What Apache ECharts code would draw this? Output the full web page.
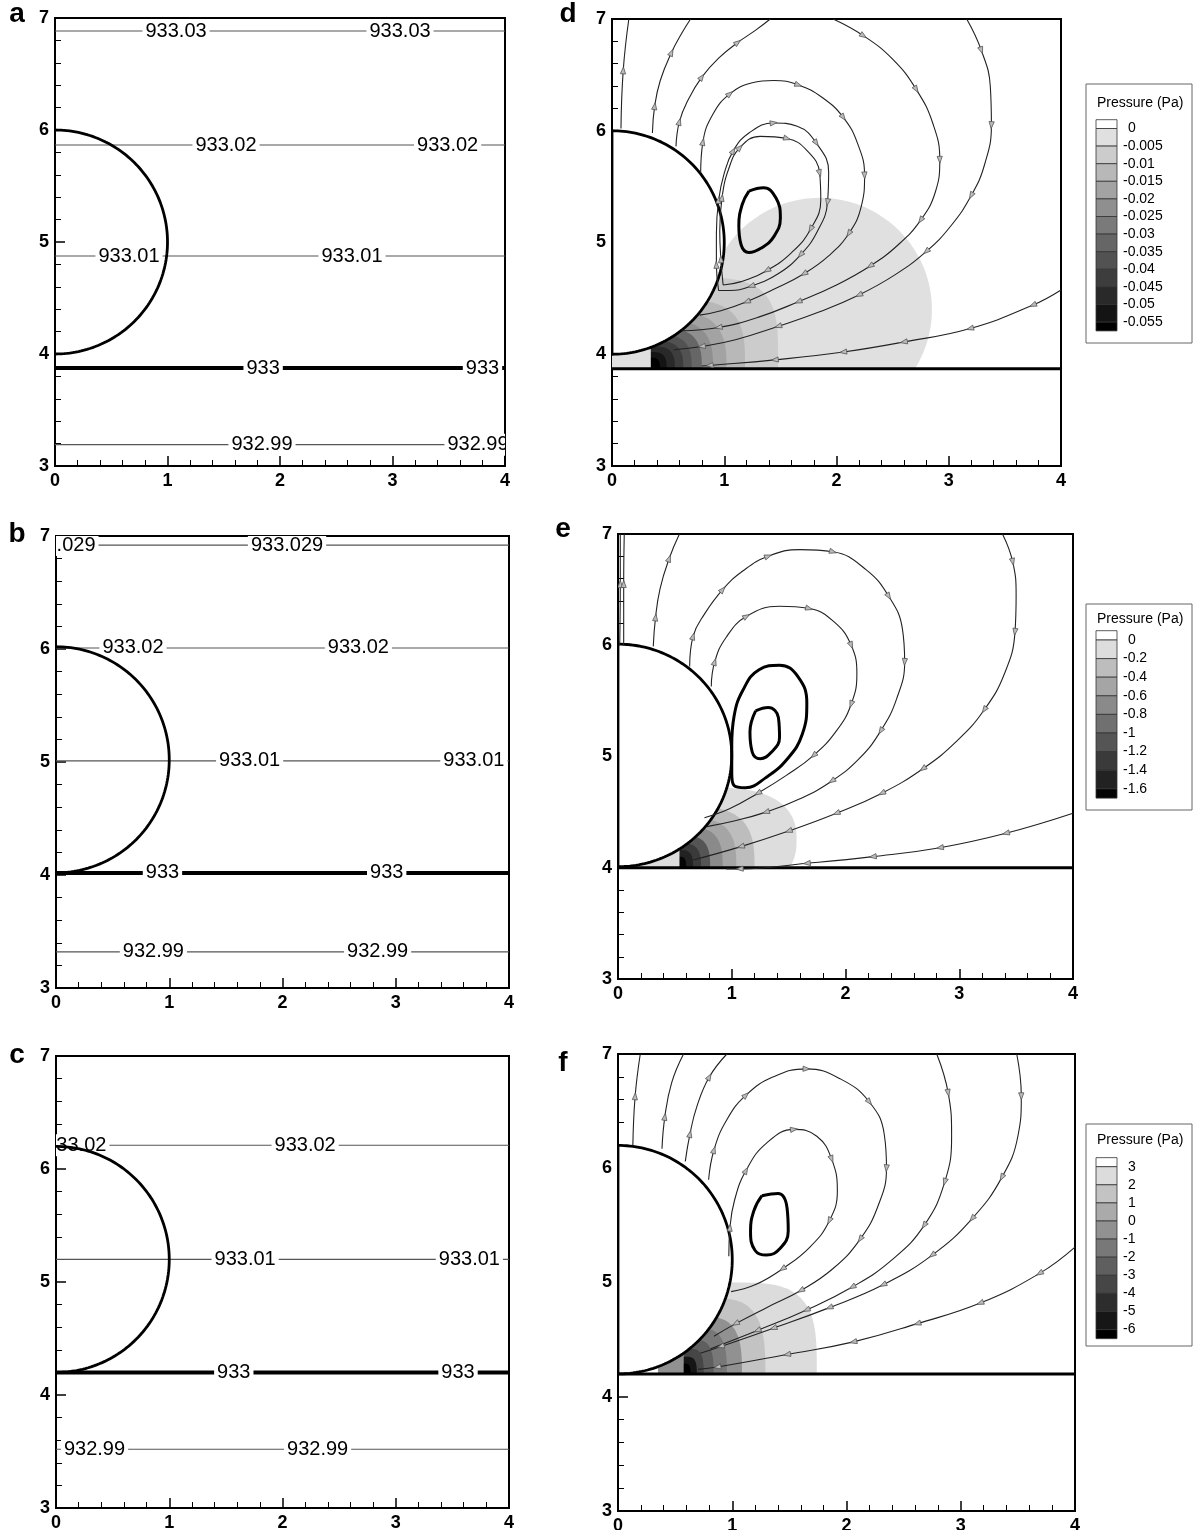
<!DOCTYPE html>
<html>
<head>
<meta charset="utf-8">
<script src="https://cdn.jsdelivr.net/npm/echarts/dist/echarts.min.js"></script>
<style>
  html, body { margin: 0; padding: 0; background: #fff; }
  #chart { width: 1193px; height: 1530px; }
</style>
</head>
<body>
<div id="chart"></div>
<script>
// ---------------- shared axis ranges ----------------
const X_RANGE = [0, 4];
const Y_RANGE = [3, 7];

// ---------------- panel a : pressure isolines ----------------
const aContourY = [6.884, 5.866, 4.875, 3.875, 3.19];
const aContourText = ['933.03', '933.02', '933.01', '933', '932.99'];
const aLabelX = [[1.076, 3.067], [1.52, 3.49], [0.658, 2.64], [1.85, 3.80], [1.84, 3.76]];
const aDroplet = [0, 5.0, 1.0];            // centre x, centre y, radius

// ---------------- panel b ----------------
const bContourY = [6.92, 6.009, 5.01, 4.018, 3.32];
const bContourText = ['933.029', '933.02', '933.01', '933', '932.99'];
const bLabelX = [[0.03, 2.04], [0.68, 2.67], [1.71, 3.69], [0.94, 2.92], [0.86, 2.84]];
const bDroplet = [0, 5.02, 1.0];

// ---------------- panel c ----------------
const cContourY = [6.21, 5.20, 4.20, 3.52];
const cContourText = ['933.02', '933.01', '933', '932.99'];
const cLabelX = [[0.175, 2.2], [1.67, 3.65], [1.57, 3.55], [0.34, 2.31]];
const cDroplet = [0, 5.2, 1.0];

// ---------------- panel d : dynamic pressure + streamlines ----------------
const dFloor = 3.87;
const dDroplet = [0, 5.0, 1.0];
const dShadeFrom = 0.345;
const dUnderDrop = [0, 0.345];
// band outlines, outermost first: centre x, centre y, half width, half height, squareness
const dBands = [
  [1.85, 4.40, 1.00, 1.00, 2],
  [0.60, 3.87, 0.88, 0.82, 4],
  [0.50, 3.87, 0.685, 0.62, 3.5],
  [0.45, 3.87, 0.57, 0.52, 3],
  [0.42, 3.87, 0.48, 0.44, 3],
  [0.40, 3.87, 0.40, 0.37, 3],
  [0.38, 3.87, 0.33, 0.31, 3],
  [0.37, 3.87, 0.265, 0.25, 3],
  [0.36, 3.87, 0.20, 0.20, 3],
  [0.35, 3.87, 0.137, 0.15, 3],
  [0.345, 3.87, 0.083, 0.10, 3]
];
const dStreams = [
  [[0.08, 6.02], [0.10, 6.54], [0.15, 7.0]],
  [[0.36, 5.98], [0.38, 6.22], [0.43, 6.45], [0.53, 6.70], [0.62, 6.87], [0.70, 7.0]],
  [[0.57, 5.86], [0.60, 6.08], [0.68, 6.28], [0.80, 6.48], [0.95, 6.65], [1.12, 6.79], [1.28, 6.90], [1.41, 7.0]],
  [[0.79, 5.62], [0.81, 5.90], [0.90, 6.15], [1.05, 6.33], [1.25, 6.43], [1.44, 6.45], [1.66, 6.41], [1.87, 6.30], [2.06, 6.12], [2.19, 5.88], [2.25, 5.60], [2.22, 5.32], [2.11, 5.08], [1.93, 4.88], [1.71, 4.72], [1.46, 4.59], [1.20, 4.47], [0.97, 4.39], [0.78, 4.35]],
  [[1.97, 7.0], [2.24, 6.85], [2.50, 6.64], [2.71, 6.37], [2.86, 6.06], [2.92, 5.74], [2.88, 5.45], [2.75, 5.20], [2.55, 4.98], [2.30, 4.79], [2.00, 4.62], [1.66, 4.47], [1.30, 4.33], [0.95, 4.24], [0.62, 4.21]],
  [[3.16, 7.0], [3.29, 6.72], [3.37, 6.40], [3.38, 6.05], [3.32, 5.70], [3.20, 5.42], [3.02, 5.15], [2.80, 4.92], [2.52, 4.71], [2.20, 4.53], [1.85, 4.38], [1.48, 4.25], [1.10, 4.13], [0.80, 4.07], [0.55, 4.04]],
  [[4.0, 4.575], [3.75, 4.44], [3.19, 4.23], [2.6, 4.11], [2.06, 4.02], [1.45, 3.95], [0.87, 3.90], [0.80, 3.895]],
  [[0.95, 4.57], [0.93, 4.80], [0.93, 5.08], [0.95, 5.38], [1.00, 5.62], [1.08, 5.82], [1.22, 5.98], [1.44, 6.07], [1.65, 6.04], [1.82, 5.89], [1.93, 5.63], [1.92, 5.36], [1.83, 5.10], [1.68, 4.89], [1.48, 4.72], [1.24, 4.61], [1.05, 4.57], [0.95, 4.57]],
  [[0.99, 4.62], [0.97, 4.85], [0.96, 5.10], [0.98, 5.40], [1.04, 5.66], [1.14, 5.85], [1.32, 5.95], [1.56, 5.93], [1.74, 5.82], [1.85, 5.62], [1.86, 5.38], [1.77, 5.12], [1.60, 4.91], [1.38, 4.75], [1.15, 4.65], [0.99, 4.62]]
];
const dCore = [[1.22, 5.46], [1.35, 5.49], [1.46, 5.40], [1.50, 5.22], [1.44, 5.05], [1.33, 4.95], [1.22, 4.91], [1.15, 4.98], [1.13, 5.15], [1.16, 5.34], [1.22, 5.46]];
const dLegendLabels = ['0', '-0.005', '-0.01', '-0.015', '-0.02', '-0.025', '-0.03', '-0.035', '-0.04', '-0.045', '-0.05', '-0.055'];

// ---------------- panel e ----------------
const eFloor = 4.0;
const eDroplet = [0, 5.01, 1.0];
const eShadeFrom = 0.54;
const eUnderDrop = [0.10, 0.54];
const eBands = [
  [0.85, 4.25, 0.72, 0.47, 2.5],
  [0.62, 4.0, 0.58, 0.55, 3],
  [0.60, 4.0, 0.44, 0.45, 3],
  [0.58, 4.0, 0.34, 0.37, 3],
  [0.56, 4.0, 0.25, 0.29, 3],
  [0.55, 4.0, 0.18, 0.22, 3],
  [0.545, 4.0, 0.115, 0.16, 3],
  [0.54, 4.0, 0.06, 0.10, 3]
];
const eStreams = [
  [[0.015, 6.0], [0.02, 6.55], [0.02, 7.0]],
  [[0.05, 6.0], [0.05, 6.55], [0.055, 7.0]],
  [[0.31, 5.99], [0.33, 6.25], [0.37, 6.51], [0.45, 6.78], [0.54, 7.0]],
  [[0.63, 5.81], [0.66, 6.08], [0.76, 6.28], [0.92, 6.50], [1.10, 6.67], [1.32, 6.80], [1.60, 6.86], [1.89, 6.84], [2.18, 6.68], [2.38, 6.44], [2.50, 6.15], [2.52, 5.85], [2.45, 5.52], [2.31, 5.23], [2.12, 4.98], [1.88, 4.78], [1.60, 4.62], [1.30, 4.50], [1.02, 4.42], [0.78, 4.37]],
  [[0.82, 5.63], [0.85, 5.85], [0.95, 6.07], [1.13, 6.26], [1.42, 6.35], [1.68, 6.33], [1.90, 6.21], [2.05, 6.00], [2.10, 5.74], [2.05, 5.47], [1.92, 5.23], [1.72, 5.01], [1.48, 4.83], [1.23, 4.67], [0.98, 4.53], [0.76, 4.45]],
  [[3.38, 7.0], [3.47, 6.75], [3.50, 6.45], [3.49, 6.12], [3.40, 5.75], [3.22, 5.42], [2.98, 5.14], [2.68, 4.89], [2.32, 4.67], [1.92, 4.49], [1.50, 4.33], [1.08, 4.19], [0.66, 4.07]],
  [[4.0, 4.49], [3.41, 4.31], [2.83, 4.18], [2.24, 4.10], [1.66, 4.04], [1.07, 3.99], [0.95, 3.99]]
];
const eSeparatrix = [[1.0, 4.85], [1.0, 5.1], [1.02, 5.36], [1.10, 5.60], [1.24, 5.78], [1.42, 5.82], [1.58, 5.72], [1.66, 5.48], [1.62, 5.20], [1.49, 4.98], [1.30, 4.81], [1.12, 4.72], [1.02, 4.74], [1.0, 4.85]];
const eCore = [[1.21, 5.41], [1.32, 5.44], [1.41, 5.35], [1.42, 5.17], [1.35, 5.04], [1.25, 4.98], [1.18, 5.04], [1.16, 5.22], [1.21, 5.41]];
const eLegendLabels = ['0', '-0.2', '-0.4', '-0.6', '-0.8', '-1', '-1.2', '-1.4', '-1.6'];

// ---------------- panel f ----------------
const fFloor = 4.2;
const fDroplet = [0, 5.2, 1.0];
const fShadeFrom = 0.574;
const fUnderDrop = [0.35, 0.574];
const fBands = [
  [1.0, 4.2, 0.74, 0.80, 3.5],
  [0.85, 4.2, 0.44, 0.66, 3],
  [0.75, 4.2, 0.335, 0.50, 3],
  [0.70, 4.2, 0.253, 0.40, 3],
  [0.66, 4.2, 0.177, 0.30, 3],
  [0.63, 4.2, 0.12, 0.22, 3],
  [0.60, 4.2, 0.09, 0.15, 3],
  [0.585, 4.2, 0.05, 0.09, 3]
];
const fStreams = [
  [[0.13, 6.20], [0.15, 6.63], [0.195, 7.0]],
  [[0.385, 6.17], [0.41, 6.45], [0.47, 6.75], [0.574, 7.0]],
  [[0.589, 6.06], [0.63, 6.30], [0.69, 6.54], [0.80, 6.80], [0.953, 7.0]],
  [[0.793, 5.90], [0.84, 6.16], [0.95, 6.42], [1.12, 6.64], [1.36, 6.80], [1.65, 6.87], [1.95, 6.78], [2.20, 6.58], [2.33, 6.30], [2.35, 6.00], [2.28, 5.68], [2.12, 5.38], [1.88, 5.12], [1.60, 4.93], [1.30, 4.78], [1.03, 4.64], [0.84, 4.53]],
  [[0.97, 5.23], [0.98, 5.48], [1.02, 5.72], [1.12, 5.98], [1.30, 6.22], [1.54, 6.34], [1.74, 6.28], [1.87, 6.08], [1.92, 5.80], [1.85, 5.54], [1.68, 5.31], [1.44, 5.12], [1.20, 4.98], [0.99, 4.92]],
  [[2.79, 7.0], [2.89, 6.66], [2.92, 6.28], [2.86, 5.88], [2.68, 5.50], [2.40, 5.20], [2.05, 4.96], [1.65, 4.76], [1.22, 4.58], [0.81, 4.42]],
  [[3.49, 7.0], [3.53, 6.63], [3.50, 6.28], [3.36, 5.92], [3.10, 5.56], [2.75, 5.24], [2.32, 4.98], [1.85, 4.78], [1.36, 4.60], [0.90, 4.44], [0.72, 4.38]],
  [[4.0, 5.31], [3.69, 5.08], [3.17, 4.82], [2.62, 4.64], [2.06, 4.48], [1.48, 4.37], [0.87, 4.26], [0.70, 4.24]]
];
const fCore = [[1.26, 5.76], [1.40, 5.78], [1.48, 5.65], [1.49, 5.45], [1.42, 5.30], [1.30, 5.24], [1.20, 5.28], [1.16, 5.45], [1.19, 5.63], [1.26, 5.76]];
const fLegendLabels = ['3', '2', '1', '0', '-1', '-2', '-3', '-4', '-5', '-6'];

// ---------------- styling ----------------
const FONT = '"Liberation Sans", Arial, Helvetica, sans-serif';
const dGrays = ['#e0e0e0', '#cccccc', '#b8b8b8', '#a3a3a3', '#8f8f8f', '#7a7a7a', '#666666', '#525252', '#3d3d3d', '#292929', '#141414', '#000000'];
const eGrays = ['#dddddd', '#bdbdbd', '#a5a5a5', '#8a8a8a', '#707070', '#555555', '#3a3a3a', '#222222', '#050505'];
const fGrays = ['#dcdcdc', '#c3c3c3', '#aaaaaa', '#919191', '#787878', '#5f5f5f', '#464646', '#2d2d2d', '#161616', '#000000'];
const ARROW_GAP = 0.42;   // minimum spacing of direction arrows, in axis units

const GRIDS = [
  { left: 55, top: 18, width: 450, height: 448 },   // a
  { left: 56, top: 536, width: 453, height: 452 },  // b
  { left: 56, top: 1056, width: 453, height: 452 }, // c
  { left: 612, top: 19, width: 449, height: 447 },  // d
  { left: 618, top: 534, width: 455, height: 445 }, // e
  { left: 618, top: 1054, width: 457, height: 457 } // f
];

function axisCommon(gi, range) {
  return {
    gridIndex: gi, type: 'value', min: range[0], max: range[1], interval: 1,
    axisLine: { show: true, onZero: false, lineStyle: { color: '#000', width: 2 } },
    axisTick: { show: true, inside: true, length: 10, lineStyle: { color: '#000', width: 1.5 } },
    minorTick: { show: true, splitNumber: 5, length: 6, lineStyle: { color: '#000', width: 1 } },
    splitLine: { show: false }, minorSplitLine: { show: false },
    axisLabel: { color: '#000', fontSize: 18, fontWeight: 'bold', fontFamily: FONT, margin: 6, showMinLabel: true, showMaxLabel: true }
  };
}

// droplet outline (half circle on x >= 0)
function dropletSeries(gi, drop, filled) {
  return {
    type: 'custom', xAxisIndex: gi, yAxisIndex: gi, clip: true, silent: true, z: 4,
    data: [drop],
    renderItem: (params, api) => {
      const cx = api.value(0), cy = api.value(1), r = api.value(2);
      const pts = [];
      for (let k = 0; k <= 120; k++) {
        const t = -Math.PI / 2 + Math.PI * k / 120;
        pts.push(api.coord([cx + r * Math.cos(t), cy + r * Math.sin(t)]));
      }
      return filled
        ? { type: 'polygon', shape: { points: pts }, style: { fill: '#fff', stroke: '#000', lineWidth: 2.8 } }
        : { type: 'polyline', shape: { points: pts }, style: { fill: null, stroke: '#000', lineWidth: 2.8 } };
    }
  };
}

function isolinePanel(gi, ys, texts, labelX, drop) {
  const out = [];
  ys.forEach((y, i) => {
    const zero = texts[i] === '933';
    out.push({
      type: 'line', xAxisIndex: gi, yAxisIndex: gi, data: [[X_RANGE[0], y], [X_RANGE[1], y]],
      symbol: 'none', silent: true, z: 2,
      lineStyle: { color: zero ? '#000' : '#555', width: zero ? 4 : 1.2 }
    });
  });
  const pts = [], txt = [];
  labelX.forEach((xs, i) => xs.forEach(x => { pts.push([x, ys[i]]); txt.push(texts[i]); }));
  out.push({
    type: 'custom', xAxisIndex: gi, yAxisIndex: gi, clip: true, silent: true, z: 3, data: pts,
    renderItem: (params, api) => {
      const p = api.coord([api.value(0), api.value(1)]);
      return {
        type: 'text', x: p[0], y: p[1],
        style: {
          text: txt[params.dataIndex], fill: '#000', font: '20px ' + FONT,
          align: 'center', verticalAlign: 'middle', backgroundColor: '#fff', padding: [1, 3]
        }
      };
    }
  });
  out.push(dropletSeries(gi, drop, false));
  return out;
}

// pick arrow anchor points along a streamline, roughly evenly spaced
function arrowAnchors(line) {
  const res = [];
  let run = 0;
  for (let k = 1; k < line.length - 1; k++) {
    run += Math.hypot(line[k][0] - line[k - 1][0], line[k][1] - line[k - 1][1]);
    if (run >= ARROW_GAP || (res.length === 0 && run >= ARROW_GAP * 0.5)) {
      res.push([line[k][0], line[k][1], line[k - 1][0], line[k - 1][1], line[k + 1][0], line[k + 1][1]]);
      run = 0;
    }
  }
  return res;
}

function flowPanel(gi, cfg) {
  const out = [];
  const nb = cfg.bands.length;
  // filled pressure bands (outermost first)
  out.push({
    type: 'custom', xAxisIndex: gi, yAxisIndex: gi, clip: true, silent: true, z: 1, data: cfg.bands,
    renderItem: (params, api) => {
      const cx = api.value(0), cy = api.value(1), a = api.value(2), b = api.value(3), n = api.value(4);
      const pts = [];
      for (let k = 0; k <= 160; k++) {
        const t = 2 * Math.PI * k / 160;
        const c = Math.cos(t), s = Math.sin(t);
        let x = cx + a * Math.sign(c) * Math.pow(Math.abs(c), 2 / n);
        let y = cy + b * Math.sign(s) * Math.pow(Math.abs(s), 2 / n);
        x = Math.max(x, cfg.shadeFrom);
        y = Math.max(y, cfg.floor);
        pts.push(api.coord([x, y]));
      }
      const ci = Math.round(params.dataIndex * (cfg.grays.length - 1) / (nb - 1));
      return { type: 'polygon', shape: { points: pts }, style: { fill: cfg.grays[ci] } };
    }
  });
  // cell between droplet and wall left of the shaded zone
  out.push({
    type: 'custom', xAxisIndex: gi, yAxisIndex: gi, clip: true, silent: true, z: 1, data: [cfg.under],
    renderItem: (params, api) => {
      const x1 = api.value(0), x2 = api.value(1);
      const pts = [[x1, cfg.floor], [x2, cfg.floor], [x2, cfg.floor + 0.4], [x1, cfg.floor + 0.4]].map(p => api.coord(p));
      return { type: 'polygon', shape: { points: pts }, style: { fill: cfg.grays[cfg.underShade] } };
    }
  });
  out.push(dropletSeries(gi, cfg.drop, true));
  // wall
  out.push({
    type: 'line', xAxisIndex: gi, yAxisIndex: gi, data: [[X_RANGE[0], cfg.floor], [X_RANGE[1], cfg.floor]],
    symbol: 'none', silent: true, z: 5, lineStyle: { color: '#000', width: 3 }
  });
  // streamlines
  cfg.streams.forEach(line => {
    out.push({
      type: 'line', xAxisIndex: gi, yAxisIndex: gi, data: line, symbol: 'none', smooth: 0.45, silent: true, z: 6,
      lineStyle: { color: '#222', width: 1.1 }
    });
  });
  cfg.loops.forEach(line => {
    out.push({
      type: 'line', xAxisIndex: gi, yAxisIndex: gi, data: line, symbol: 'none', smooth: 0.45, silent: true, z: 7,
      lineStyle: { color: '#000', width: 3 }
    });
  });
  // direction arrows
  const arrows = [];
  cfg.streams.forEach(line => arrows.push(...arrowAnchors(line)));
  out.push({
    type: 'custom', xAxisIndex: gi, yAxisIndex: gi, clip: true, silent: true, z: 8, data: arrows,
    renderItem: (params, api) => {
      const p = api.coord([api.value(0), api.value(1)]);
      const q0 = api.coord([api.value(2), api.value(3)]);
      const q1 = api.coord([api.value(4), api.value(5)]);
      let dx = q1[0] - q0[0], dy = q1[1] - q0[1];
      const L = Math.hypot(dx, dy) || 1; dx /= L; dy /= L;
      const len = 7, w = 2.6;
      const tip = [p[0] + dx * len / 2, p[1] + dy * len / 2];
      const back = [p[0] - dx * len / 2, p[1] - dy * len / 2];
      return {
        type: 'polygon',
        shape: { points: [[back[0] - dy * w, back[1] + dx * w], tip, [back[0] + dy * w, back[1] - dx * w]] },
        style: { fill: '#bbb', stroke: '#555', lineWidth: 0.8 }
      };
    }
  });
  return out;
}

function legendBox(labels, grays, box) {
  const els = [];
  els.push({ type: 'rect', shape: { x: box.x, y: box.y, width: box.w, height: box.h }, style: { fill: '#fff', stroke: '#666', lineWidth: 1 }, z: 10 });
  els.push({ type: 'text', x: box.x + 11, y: box.titleY, style: { text: 'Pressure (Pa)', font: '14px ' + FONT, fill: '#000', verticalAlign: 'middle' }, z: 11 });
  const sx = box.x + 10, sw = 21, n = labels.length, s = box.s;
  const swatch = (y, h, c) => ({ type: 'rect', shape: { x: sx, y: y, width: sw, height: h }, style: { fill: c, stroke: '#333', lineWidth: 0.8 }, z: 11 });
  els.push(swatch(box.y0 - s / 2, s / 2, '#fff'));
  for (let j = 0; j < n - 1; j++) els.push(swatch(box.y0 + s * j, s, grays[j]));
  els.push(swatch(box.y0 + s * (n - 1), s / 2, grays[n - 1]));
  labels.forEach((t, k) => {
    els.push({
      type: 'text', x: sx + sw + 6 + (t[0] === '-' ? 0 : 5), y: box.y0 + s * k,
      style: { text: t, font: '14px ' + FONT, fill: '#000', verticalAlign: 'middle' }, z: 12
    });
  });
  return els;
}

const panelLetters = [
  ['a', 17, 28], ['b', 17, 548], ['c', 17, 1069],
  ['d', 568, 28], ['e', 563, 543], ['f', 563, 1077]
];

const series = [
  ...isolinePanel(0, aContourY, aContourText, aLabelX, aDroplet),
  ...isolinePanel(1, bContourY, bContourText, bLabelX, bDroplet),
  ...isolinePanel(2, cContourY, cContourText, cLabelX, cDroplet),
  ...flowPanel(3, { floor: dFloor, drop: dDroplet, shadeFrom: dShadeFrom, under: dUnderDrop, underShade: 0, bands: dBands, grays: dGrays, streams: dStreams, loops: [dCore] }),
  ...flowPanel(4, { floor: eFloor, drop: eDroplet, shadeFrom: eShadeFrom, under: eUnderDrop, underShade: 0, bands: eBands, grays: eGrays, streams: eStreams, loops: [eSeparatrix, eCore] }),
  ...flowPanel(5, { floor: fFloor, drop: fDroplet, shadeFrom: fShadeFrom, under: fUnderDrop, underShade: 3, bands: fBands, grays: fGrays, streams: fStreams, loops: [fCore] })
];

const graphic = [
  ...panelLetters.map(([t, x, y]) => ({ type: 'text', x: x, y: y, style: { text: t, font: 'bold 28px ' + FONT, fill: '#000', align: 'center', verticalAlign: 'bottom' }, z: 20 })),
  ...legendBox(dLegendLabels, dGrays, { x: 1086, y: 84, w: 106, h: 259, titleY: 103, y0: 128.5, s: 17.6 }),
  ...legendBox(eLegendLabels, eGrays, { x: 1086, y: 604, w: 106, h: 206, titleY: 619, y0: 640, s: 18.6 }),
  ...legendBox(fLegendLabels, fGrays, { x: 1086, y: 1124, w: 106, h: 222, titleY: 1140, y0: 1166.7, s: 18.1 })
];

const chart = echarts.init(document.getElementById('chart'), null, { renderer: 'canvas', width: 1193, height: 1530 });
chart.setOption({
  animation: false,
  backgroundColor: '#fff',
  grid: GRIDS.map(g => Object.assign({ show: true, borderColor: '#000', borderWidth: 2, backgroundColor: 'transparent', containLabel: false, outerBoundsMode: 'none' }, g)),
  xAxis: GRIDS.map((g, i) => axisCommon(i, X_RANGE)),
  yAxis: GRIDS.map((g, i) => axisCommon(i, Y_RANGE)),
  series: series,
  graphic: graphic
});
</script>
</body>
</html>
